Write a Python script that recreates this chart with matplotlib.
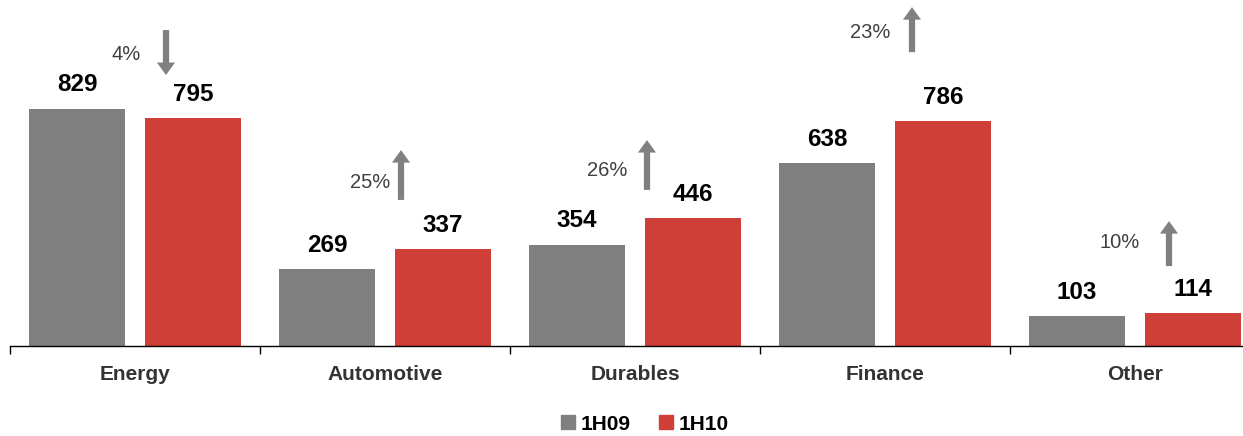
import numpy as np
import matplotlib.pyplot as plt
from matplotlib.lines import Line2D

categories = ["Energy", "Automotive", "Durables", "Finance", "Other"]
h09 = [829, 269, 354, 638, 103]
h10 = [795, 337, 446, 786, 114]
changes = ["4%", "25%", "26%", "23%", "10%"]
directions = ["down", "up", "up", "up", "up"]

# annotation layout (data units): arrow x offset, arrow y range, text x offset, text y
arrow_dx = [0.124, 0.064, 0.048, 0.108, 0.136]
arrow_lo = [946, 510, 545, 1026, 279]
arrow_hi = [1103, 684, 719, 1183, 436]
text_dx = [-0.036, -0.06, -0.112, -0.06, -0.06]
text_y = [1016, 572, 614, 1096, 360]

gray = "#808080"
red = "#CF3F38"

plt.rcParams['font.family'] = ['Liberation Sans', 'DejaVu Sans']

fig = plt.figure(figsize=(12.43, 4.36), dpi=100)
ax = fig.add_axes([10/1243, 90/436, 1250/1243, 346/436])

x = np.arange(len(categories))
w = 0.384
off = 0.232
ax.bar(x - off, h09, w, color=gray)
ax.bar(x + off, h10, w, color=red)

for i in range(len(categories)):
    ax.text(x[i] - off, h09[i] + 60, str(h09[i]), ha='center', va='baseline',
            fontsize=17.5, fontweight='bold', color='black')
    ax.text(x[i] + off, h10[i] + 60, str(h10[i]), ha='center', va='baseline',
            fontsize=17.5, fontweight='bold', color='black')
    ax.text(x[i] + text_dx[i], text_y[i], changes[i], ha='center', va='center',
            fontsize=14.5, color='#404040')
    if directions[i] == "down":
        start, end = arrow_hi[i], arrow_lo[i]
    else:
        start, end = arrow_lo[i], arrow_hi[i]
    ax.annotate("", xy=(x[i] + arrow_dx[i], end), xytext=(x[i] + arrow_dx[i], start),
                arrowprops=dict(arrowstyle="simple,head_width=1.3,head_length=0.9,tail_width=0.45",
                                color=gray, lw=0, shrinkA=0, shrinkB=0))

ax.set_xlim(-0.5, 4.5)
ax.set_ylim(0, 1208)
for s in ['top', 'right', 'left']:
    ax.spines[s].set_visible(False)
ax.spines['bottom'].set_linewidth(1.0)
ax.set_yticks([])
ax.set_xticks(np.arange(-0.5, 5, 1.0))
ax.set_xticklabels([])
ax.tick_params(axis='x', which='major', length=6, width=1, direction='out')
ax.set_xticks(x, minor=True)
ax.set_xticklabels(categories, minor=True, fontsize=15, fontweight='bold', color='#333333')
ax.tick_params(axis='x', which='minor', length=0, pad=14)

handles = [Line2D([], [], marker='s', linestyle='', markersize=10, color=gray),
           Line2D([], [], marker='s', linestyle='', markersize=10, color=red)]
fig.legend(handles, ["1H09", "1H10"], loc='center', bbox_to_anchor=(643/1243, 1 - 424/436),
           ncol=2, frameon=False, prop={'size': 15, 'weight': 'bold'},
           handletextpad=0.1, columnspacing=1.2, handlelength=1.0)

fig.savefig("out.png", dpi=100)
